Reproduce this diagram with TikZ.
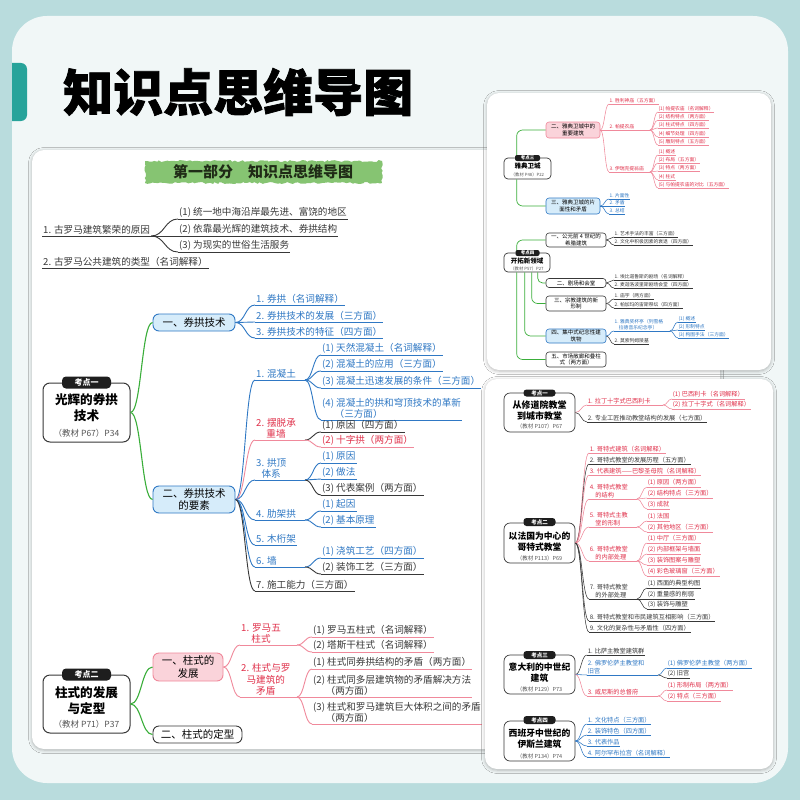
\documentclass[tikz,border=0pt]{standalone}
\usepackage{fontspec}
\setmainfont{Noto Sans CJK SC}
\newfontfamily\heavyfont{Noto Sans CJK SC}[BoldFeatures={FakeBold=1.5}]
\usetikzlibrary{calc, shadows.blur, decorations.pathmorphing}

\definecolor{bgteal}{HTML}{B9DCDD}
\definecolor{panel}{HTML}{F1F7F7}
\definecolor{tabteal}{HTML}{27A39A}
\definecolor{brush}{HTML}{86C472}
\definecolor{bannertext}{HTML}{1F2B16}
\definecolor{mblue}{HTML}{2F78C4}
\definecolor{mred}{HTML}{E0304A}
\definecolor{mpink}{HTML}{F0899B}
\definecolor{mgreen}{HTML}{3AAE3A}
\definecolor{mdark}{HTML}{383838}
\definecolor{mgray}{HTML}{555555}
\definecolor{lblue}{HTML}{D6ECFA}
\definecolor{lpink}{HTML}{FAD3DA}
\definecolor{tagblack}{HTML}{1E1E1E}

% curved mind-map connector, flat at both ends
\newcommand{\mmlink}[3][]{%
  \draw[#1] let \p1=(#2), \p2=(#3) in
    (\p1) .. controls ({0.5*\x1+0.5*\x2},\y1) and ({0.5*\x1+0.5*\x2},\y2) .. (\p2);}

\tikzset{
  leaf/.style={anchor=south west, inner xsep=1pt, inner ysep=1.2pt, align=left,
    font=\fontsize{9.6}{11.5}\selectfont},
  mleaf/.style={leaf, inner xsep=0.6pt, inner ysep=0.7pt, font=\fontsize{6.2}{7.8}\selectfont},
  sleaf/.style={leaf, inner xsep=0.4pt, inner ysep=0.5pt, font=\fontsize{4.8}{6}\selectfont},
  lk/.style={line width=0.9pt},
  hair/.style={line width=0.55pt},
  gline/.style={draw=mgreen, line width=1.1pt},
  topic/.style={draw=mdark, fill=white, line width=0.9pt, rounded corners=6pt,
    align=center, inner sep=1pt, font=\fontsize{10.5}{12.5}\selectfont},
  bluetopic/.style={topic, draw=mblue, fill=lblue},
  pinktopic/.style={topic, draw=mpink, fill=lpink},
  stopic/.style={line width=0.6pt, rounded corners=3pt, inner sep=0.5pt,
    font=\fontsize{5.5}{6.5}\selectfont},
  keybox/.style={draw=mdark, fill=white, line width=1pt, rounded corners=7pt},
  skeybox/.style={keybox, line width=0.7pt, rounded corners=4pt},
  keytag/.style={fill=tagblack, text=white, rounded corners=4pt, inner sep=0pt,
    font=\bfseries\fontsize{8}{8}\selectfont},
  keytitle/.style={align=center, inner sep=0pt, font=\bfseries\fontsize{12.6}{16}\selectfont},
  keysub/.style={inner sep=0pt, text=mgray, font=\fontsize{8.5}{10}\selectfont},
  sheet/.style={fill=white, rounded corners=12pt,
    blur shadow={shadow xshift=0pt, shadow yshift=-1pt, shadow blur radius=3.5pt, shadow opacity=30}},
}

\begin{document}
\begin{tikzpicture}[x=1pt, y=-1pt]
\useasboundingbox (0,0) rectangle (800,800);

% =========================================================================
% BACKGROUND
% =========================================================================
\fill[bgteal] (0,0) rectangle (800,800);
\fill[panel, rounded corners=35pt] (12,16) rectangle (788,783);
\fill[tabteal, rounded corners=6pt] (12,63) -- (27,63) -- (27,121) -- (12,121);
\node[anchor=west, inner sep=0pt, font=\heavyfont\bfseries\fontsize{50}{50}\selectfont] (title) at (63,92) {知识点思维导图};

% =========================================================================
% LEFT PAGE
% =========================================================================
\path[sheet] (32,150) rectangle (720,749);
\fill[brush, decorate, decoration={random steps, segment length=2.5pt, amplitude=1pt}] (145,161) rectangle (382,183);
\node[text=bannertext, font=\bfseries\fontsize{15}{15}\selectfont] (banner) at (263,172) {第一部分　知识点思维导图};

% --- causes and types ---
\node[leaf, text=mdark] (cause) at (42,236) {1. 古罗马建筑繁荣的原因};
\draw[lk, draw=mdark] (cause.south west) -- (cause.south east);
\foreach \nm/\yy/\tx in {causea/219/{(1) 统一地中海沿岸最先进、富饶的地区},
    causeb/236/{(2) 依靠最光辉的建筑技术、券拱结构}, causec/252/{(3) 为现实的世俗生活服务}}{
  \node[leaf, text=mdark] (\nm) at (178,\yy) {\tx};
  \draw[lk, draw=mdark] (\nm.south west) -- (\nm.south east);
  \mmlink[lk, draw=mdark]{cause.south east}{\nm.south west}
}
\node[leaf, text=mdark] (types) at (42,268) {2. 古罗马公共建筑的类型（名词解释）};
\draw[lk, draw=mdark] (types.south west) -- (types.south east);

% --- kaodian 1 ---
\node[keybox, minimum width=87pt, minimum height=59pt] (k1) at (86.5,412.5) {};
\node[keytitle] (k1t) at (86.5,408) {光辉的券拱\\技术};
\node[keysub] (k1s) at (86.5,433) {（教材 P67）P34};
\node[keytag, minimum width=49pt, minimum height=12pt] (k1g) at (86.5,382.5) {考点一};

\node[bluetopic, minimum width=82pt, minimum height=17pt] (t1) at (194,322.5) {一、券拱技术};
\node[bluetopic, minimum width=82pt, minimum height=27pt] (t2) at (194,499.5) {二、券拱技术\\的要素};
\mmlink[gline]{k1.east}{t1.west}
\mmlink[gline]{k1.east}{t2.west}

\foreach \nm/\yy/\tx in {a1/305/{1. 券拱（名词解释）}, a2/322/{2. 券拱技术的发展（三方面）},
    a3/338/{3. 券拱技术的特征（四方面）}}{
  \node[leaf, text=mblue] (\nm) at (255,\yy) {\tx};
  \draw[lk, draw=mblue] (\nm.south west) -- (\nm.south east);
  \mmlink[lk, draw=mblue]{t1.east}{\nm.south west}
}

% elements: parents with forks
\foreach \nm/\yy/\lc/\tc/\tx in {b1/380/mblue/mblue/{1. 混凝土}, b4/520/mblue/mblue/{4. 肋架拱},
    b6/567/mblue/mblue/{6. 墙}}{
  \node[leaf, text=\tc] (\nm) at (255,\yy) {\tx};
  \coordinate (\nm f) at (305,\yy);
  \draw[lk, draw=\lc] (\nm.south west) -- (\nm f);
  \mmlink[lk, draw=\lc]{t2.east}{\nm.south west}
}
\node[leaf, align=center, text=mred] (b2) at (255,440) {2. 摆脱承\\重墙};
\coordinate (b2f) at (305,440);
\draw[lk, draw=mpink] (b2.south west) -- (b2f);
\mmlink[lk, draw=mpink]{t2.east}{b2.south west}
\node[leaf, align=center, text=mblue] (b3) at (255,480) {3. 拱顶\\体系};
\coordinate (b3f) at (305,480);
\draw[lk, draw=mblue] (b3.south west) -- (b3f);
\mmlink[lk, draw=mblue]{t2.east}{b3.south west}
\node[leaf, text=mblue] (b5) at (255,545) {5. 木桁架};
\draw[lk, draw=mblue] (b5.south west) -- (b5.south east);
\mmlink[lk, draw=mblue]{t2.east}{b5.south west}
\node[leaf, text=mdark] (b7) at (255,591) {7. 施工能力（三方面）};
\draw[lk, draw=mdark] (b7.south west) -- (b7.south east);
\mmlink[lk, draw=mdark]{t2.east}{b7.south west}

% elements: children
\foreach \pa/\nm/\yy/\lc/\tc/\tx in {
    b1/b1a/355/mblue/mblue/{(1) 天然混凝土（名词解释）},
    b1/b1b/371/mblue/mblue/{(2) 混凝土的应用（三方面）},
    b1/b1c/388/mblue/mblue/{(3) 混凝土迅速发展的条件（三方面）},
    b1/b1d/420/mblue/mblue/{(4) 混凝土的拱和穹顶技术的革新\\\hspace*{1.3em}（三方面）},
    b2/b2a/432/mdark/mdark/{(1) 原因（四方面）},
    b2/b2b/447/mpink/mred/{(2) 十字拱（两方面）},
    b3/b3a/463/mblue/mblue/{(1) 原因},
    b3/b3b/479/mblue/mblue/{(2) 做法},
    b3/b3c/495/mdark/mdark/{(3) 代表案例（两方面）},
    b4/b4a/511/mblue/mblue/{(1) 起因},
    b4/b4b/527/mblue/mblue/{(2) 基本原理},
    b6/b6a/558/mblue/mblue/{(1) 浇筑工艺（四方面）},
    b6/b6b/574/mdark/mdark/{(2) 装饰工艺（三方面）}}{
  \node[leaf, text=\tc] (\nm) at (321,\yy) {\tx};
  \draw[lk, draw=\lc] (\nm.south west) -- (\nm.south east);
  \mmlink[lk, draw=\lc]{\pa f}{\nm.south west}
}

% --- kaodian 2 ---
\node[keybox, minimum width=87pt, minimum height=58pt] (k2) at (86.5,704) {};
\node[keytitle] (k2t) at (86.5,701) {柱式的发展\\与定型};
\node[keysub] (k2s) at (86.5,724) {（教材 P71）P37};
\node[keytag, minimum width=49pt, minimum height=12pt] (k2g) at (86.5,674.5) {考点二};

\node[pinktopic, minimum width=70pt, minimum height=28pt] (p1) at (188,667) {一、柱式的\\发展};
\node[topic, minimum width=89pt, minimum height=17pt] (p2) at (197.5,734.5) {二、柱式的定型};
\mmlink[gline]{k2.east}{p1.west}
\mmlink[gline]{k2.east}{p2.west}

\node[leaf, align=center, text=mred] (c1) at (240,645) {1. 罗马五\\柱式};
\coordinate (c1f) at (297,645);
\draw[lk, draw=mpink] (c1.south west) -- (c1f);
\mmlink[lk, draw=mpink]{p1.east}{c1.south west}
\node[leaf, align=center, text=mred] (c2) at (240,697) {2. 柱式与罗\\马建筑的\\矛盾};
\coordinate (c2f) at (297,697);
\draw[lk, draw=mpink] (c2.south west) -- (c2f);
\mmlink[lk, draw=mpink]{p1.east}{c2.south west}

\foreach \pa/\nm/\yy/\tx in {
    c1/c1a/637/{(1) 罗马五柱式（名词解释）},
    c1/c1b/652/{(2) 塔斯干柱式（名词解释）},
    c2/c2a/669/{(1) 柱式同券拱结构的矛盾（两方面）},
    c2/c2b/697/{(2) 柱式同多层建筑物的矛盾解决方法\\\hspace*{1.3em}（两方面）},
    c2/c2c/724/{(3) 柱式和罗马建筑巨大体积之间的矛盾\\\hspace*{1.3em}（两方面）}}{
  \node[leaf, text=mdark] (\nm) at (312,\yy) {\tx};
  \draw[lk, draw=mpink] (\nm.south west) -- (\nm.south east);
  \mmlink[lk, draw=mpink]{\pa f}{\nm.south west}
}

% =========================================================================
% UPPER RIGHT PAGE
% =========================================================================
\path[sheet] (487,93) rectangle (771,370);

% --- kaodian 3 ---
\node[skeybox, minimum width=47pt, minimum height=21pt] (k3) at (527.5,168.5) {};
\node[keytitle, font=\bfseries\fontsize{6.5}{8}\selectfont] (k3t) at (527.5,166.5) {雅典卫城};
\node[keysub, font=\fontsize{4.3}{5}\selectfont] (k3s) at (527.5,175) {（教材 P48）P22};
\node[pinktopic, stopic, minimum width=54pt, minimum height=16pt] (u2) at (573,130) {二、雅典卫城中的\\重要建筑};
\node[bluetopic, stopic, minimum width=54pt, minimum height=16pt] (u3) at (573,206) {三、雅典卫城的片\\面性和矛盾};
\draw[gline, line width=0.7pt, rounded corners=6pt] ($(k3.north west)+(13,0)$) |- (u2.west);
\draw[gline, line width=0.7pt, rounded corners=6pt] ($(k3.south west)+(13,0)$) |- (u3.west);
\node[keytag, minimum width=25pt, minimum height=6pt, rounded corners=2pt,
  font=\bfseries\fontsize{4.5}{4.5}\selectfont] (k3g) at (527.5,158) {考点三};

\foreach \nm/\yy/\tx in {v1/104/{1. 胜利神庙（五方面）}, v2/130/{2. 帕提农庙}, v3/172/{3. 伊瑞克提翁庙}}{
  \node[sleaf, text=mred] (\nm) at (609,\yy) {\tx};
  \coordinate (\nm f) at (650,\yy);
  \draw[hair, draw=mpink] (\nm.south west) -- (\nm.south east);
  \mmlink[hair, draw=mpink]{u2.east}{\nm.south west}
}
\draw[hair, draw=mpink] (v2.south east) -- (v2f);
\draw[hair, draw=mpink] (v3.south east) -- (v3f);
\foreach \pa/\nm/\yy/\tx in {
    v2/v2a/112/{(1) 帕提农庙（名词解释）}, v2/v2b/120/{(2) 结构特点（两方面）},
    v2/v2c/128/{(3) 柱式特点（四方面）}, v2/v2d/137/{(4) 细节处理（四方面）},
    v2/v2e/145/{(5) 雕刻特点（五方面）},
    v3/v3a/155/{(1) 概述}, v3/v3b/163/{(2) 布局（五方面）},
    v3/v3c/171/{(3) 特点（两方面）}, v3/v3d/180/{(4) 柱式},
    v3/v3e/188/{(5) 与帕提农庙的对比（五方面）}}{
  \node[sleaf, text=mred] (\nm) at (658,\yy) {\tx};
  \draw[hair, draw=mpink] (\nm.south west) -- (\nm.south east);
  \mmlink[hair, draw=mpink]{\pa f}{\nm.south west}
}
\foreach \nm/\yy/\tx in {w1/199/{1. 片面性}, w2/206/{2. 矛盾}, w3/214/{3. 总结}}{
  \node[sleaf, text=mblue] (\nm) at (609,\yy) {\tx};
  \draw[hair, draw=mblue] (\nm.south west) -- (\nm.south east);
  \mmlink[hair, draw=mblue]{u3.east}{\nm.south west}
}

% --- kaodian 4 ---
\node[skeybox, minimum width=46pt, minimum height=19pt] (k4) at (527,262.5) {};
\node[keytitle, font=\bfseries\fontsize{6.5}{8}\selectfont] (k4t) at (527,261) {开拓新领域};
\node[keysub, font=\fontsize{4.3}{5}\selectfont] (k4s) at (527,268.5) {（教材 P57）P27};
\node[topic, stopic, minimum width=60pt, minimum height=14pt] (u41) at (576,240) {一、公元前 4 世纪的\\希腊建筑};
\node[topic, stopic, minimum width=60pt, minimum height=9pt] (u42) at (576,283) {二、剧场和会堂};
\node[topic, stopic, minimum width=60pt, minimum height=15pt] (u43) at (576,303.5) {三、宗教建筑的新\\形制};
\node[bluetopic, stopic, minimum width=60pt, minimum height=14pt] (u44) at (576,336) {四、集中式纪念性建\\筑物};
\node[topic, stopic, minimum width=60pt, minimum height=15pt] (u45) at (576,359.5) {五、市场敞廊和叠柱\\式（两方面）};
\draw[gline, line width=0.7pt, rounded corners=6pt] ($(k4.north west)+(13,0)$) |- (u41.west);
\draw[gline, line width=0.7pt, rounded corners=6pt] ($(k4.south west)+(13,0)$) |- (u45.west);
\draw[gline, line width=0.7pt, rounded corners=6pt] ($(k4.south west)+(21,0)$) |- (u44.west);
\draw[gline, line width=0.7pt, rounded corners=6pt] ($(k4.south west)+(28,0)$) |- (u43.west);
\draw[gline, line width=0.7pt, rounded corners=5pt] ($(k4.south west)+(34,0)$) |- (u42.west);
\node[keytag, minimum width=24pt, minimum height=6pt, rounded corners=2pt,
  font=\bfseries\fontsize{4.5}{4.5}\selectfont] (k4g) at (527.5,253) {考点四};

\foreach \pa/\nm/\yy/\lc/\tx in {
    u41/x1/237/mdark/{1. 艺术手法的丰富（三方面）},
    u41/x2/245/mdark/{2. 文化中积极因素的衰退（四方面）},
    u42/x3/280/mdark/{1. 埃比道鲁斯的剧场（名词解释）},
    u42/x4/288/mdark/{2. 麦迦洛波里斯剧场会堂（四方面）},
    u43/x5/299/mdark/{1. 庙宇（两方面）},
    u43/x6/308/mdark/{2. 帕加玛的宙斯祭坛（四方面）},
    u44/x7/331/mblue/{1. 雅典奖杯亭（列雪格\\\hspace*{0.9em}拉德音乐纪念亭）},
    u44/x8/344/mdark/{2. 莫索列姆陵墓}}{
  \node[sleaf, text=\lc] (\nm) at (614,\yy) {\tx};
  \draw[hair, draw=\lc] (\nm.south west) -- (\nm.south east);
  \mmlink[hair, draw=\lc]{\pa.east}{\nm.south west}
}
\coordinate (x7f) at (670,331);
\draw[hair, draw=mblue] (x7.south east) -- (x7f);
\foreach \nm/\yy/\tx in {x7a/322/{(1) 概述}, x7b/330/{(2) 形制特点}, x7c/338/{(3) 构图手法（三方面）}}{
  \node[sleaf, text=mblue] (\nm) at (678,\yy) {\tx};
  \draw[hair, draw=mblue] (\nm.south west) -- (\nm.south east);
  \mmlink[hair, draw=mblue]{x7f}{\nm.south west}
}

% =========================================================================
% LOWER RIGHT PAGE
% =========================================================================
\path[sheet] (485,379) rectangle (773,769);

% --- kaodian 1 ---
\node[skeybox, minimum width=71pt, minimum height=39pt, rounded corners=6pt] (k5) at (539.5,412.5) {};
\node[keytitle, font=\bfseries\fontsize{9}{11}\selectfont] (k5t) at (539.5,410.5) {从修道院教堂\\到城市教堂};
\node[keysub, font=\fontsize{5.5}{6}\selectfont] (k5s) at (539.5,426) {（教材 P107）P67};
\node[keytag, minimum width=32pt, minimum height=7pt, rounded corners=3pt,
  font=\bfseries\fontsize{5.5}{5.5}\selectfont] (k5g) at (539.5,393) {考点一};

\node[mleaf, text=mred] (y1) at (587,405) {1. 拉丁十字式巴西利卡};
\coordinate (y1f) at (663,405);
\draw[hair, draw=mpink] (y1.south west) -- (y1f);
\mmlink[hair, draw=mpink]{k5.east}{y1.south west}
\node[mleaf, text=mdark] (y2) at (587,422) {2. 专业工匠推动教堂结构的发展（七方面）};
\draw[hair, draw=mdark] (y2.south west) -- (y2.south east);
\mmlink[hair, draw=mdark]{k5.east}{y2.south west}
\foreach \nm/\yy/\tx in {y1a/399/{(1) 巴西利卡（名词解释）}, y1b/409/{(2) 拉丁十字式（名词解释）}}{
  \node[mleaf, text=mred] (\nm) at (672,\yy) {\tx};
  \draw[hair, draw=mpink] (\nm.south west) -- (\nm.south east);
  \mmlink[hair, draw=mpink]{y1f}{\nm.south west}
}

% --- kaodian 2 ---
\node[skeybox, minimum width=71pt, minimum height=40pt, rounded corners=6pt] (k6) at (539.5,543) {};
\node[keytitle, font=\bfseries\fontsize{8.8}{11}\selectfont] (k6t) at (539.5,541.5) {以法国为中心的\\哥特式教堂};
\node[keysub, font=\fontsize{5.5}{6}\selectfont] (k6s) at (539.5,558) {（教材 P113）P69};
\node[keytag, minimum width=32pt, minimum height=8pt, rounded corners=3pt,
  font=\bfseries\fontsize{5.5}{5.5}\selectfont] (k6g) at (539.5,522) {考点二};

\foreach \nm/\yy/\lc/\tc/\tx in {
    z1/453/mpink/mred/{1. 哥特式建筑（名词解释）},
    z2/464/mdark/mdark/{2. 哥特式教堂的发展历程（五方面）},
    z3/475/mpink/mred/{3. 代表建筑——巴黎圣母院（名词解释）},
    z4/499/mpink/mred/{4. 哥特式教堂\\\hspace*{0.9em}的结构},
    z5/527/mpink/mred/{5. 哥特式主教\\\hspace*{0.9em}堂的形制},
    z6/561/mpink/mred/{6. 哥特式教堂\\\hspace*{0.9em}的内部处理},
    z7/599/mdark/mdark/{7. 哥特式教堂\\\hspace*{0.9em}的外部处理},
    z8/621/mdark/mdark/{8. 哥特式教堂和市民建筑互相影响（三方面）},
    z9/632/mdark/mdark/{9. 文化的复杂性与矛盾性（四方面）}}{
  \node[mleaf, text=\tc] (\nm) at (589,\yy) {\tx};
  \coordinate (\nm f) at (637,\yy);
  \draw[hair, draw=\lc] (\nm.south west) -- (\nm.south east);
  \mmlink[hair, draw=\lc]{k6.east}{\nm.south west}
}
\foreach \nm/\lc in {z4/mpink, z5/mpink, z6/mpink, z7/mdark}{
  \draw[hair, draw=\lc] (\nm.south east) -- (\nm f);
}
\foreach \pa/\nm/\yy/\lc/\tc/\tx in {
    z4/z4a/487/mpink/mred/{(1) 原因（两方面）},
    z4/z4b/498/mpink/mred/{(2) 结构特点（三方面）},
    z4/z4c/509/mpink/mred/{(3) 成就},
    z5/z5a/521/mpink/mred/{(1) 法国},
    z5/z5b/532/mpink/mred/{(2) 其他地区（三方面）},
    z6/z6a/543/mpink/mred/{(1) 中厅（三方面）},
    z6/z6b/554/mpink/mred/{(2) 内部框架与墙面},
    z6/z6c/565/mpink/mred/{(3) 装饰图案与雕塑},
    z6/z6d/576/mpink/mred/{(4) 彩色玻璃窗（三方面）},
    z7/z7a/588/mdark/mdark/{(1) 西面的典型构图},
    z7/z7b/599/mdark/mdark/{(2) 重量感的削弱},
    z7/z7c/609/mdark/mdark/{(3) 装饰与雕塑}}{
  \node[mleaf, text=\tc] (\nm) at (647,\yy) {\tx};
  \draw[hair, draw=\lc] (\nm.south west) -- (\nm.south east);
  \mmlink[hair, draw=\lc]{\pa f}{\nm.south west}
}

% --- kaodian 3 ---
\node[skeybox, minimum width=71pt, minimum height=39pt, rounded corners=6pt] (k7) at (539.5,674.5) {};
\node[keytitle, font=\bfseries\fontsize{8.8}{11}\selectfont] (k7t) at (539.5,672.5) {意大利的中世纪\\建筑};
\node[keysub, font=\fontsize{5.5}{6}\selectfont] (k7s) at (539.5,689) {（教材 P129）P73};
\node[keytag, minimum width=32pt, minimum height=8pt, rounded corners=3pt,
  font=\bfseries\fontsize{5.5}{5.5}\selectfont] (k7g) at (539.5,655) {考点三};

\node[mleaf, text=mdark] (q1) at (587,655) {1. 比萨主教堂建筑群};
\draw[hair, draw=mdark] (q1.south west) -- (q1.south east);
\mmlink[hair, draw=mdark]{k7.east}{q1.south west}
\node[mleaf, text=mblue] (q2) at (587,675) {2. 佛罗伦萨主教堂和\\旧宫};
\coordinate (q2f) at (658,675);
\draw[hair, draw=mblue] (q2.south west) -- (q2f);
\mmlink[hair, draw=mblue]{k7.east}{q2.south west}
\node[mleaf, text=mred] (q3) at (587,696) {3. 威尼斯的总督府};
\coordinate (q3f) at (658,696);
\draw[hair, draw=mpink] (q3.south west) -- (q3f);
\mmlink[hair, draw=mpink]{k7.east}{q3.south west}
\foreach \pa/\nm/\yy/\lc/\tc/\tx in {
    q2/q2a/668/mblue/mblue/{(1) 佛罗伦萨主教堂（两方面）},
    q2/q2b/678/mdark/mdark/{(2) 旧宫},
    q3/q3a/690/mpink/mred/{(1) 形制布局（两方面）},
    q3/q3b/701/mpink/mred/{(2) 特点（三方面）}}{
  \node[mleaf, text=\tc] (\nm) at (667,\yy) {\tx};
  \draw[hair, draw=\lc] (\nm.south west) -- (\nm.south east);
  \mmlink[hair, draw=\lc]{\pa f}{\nm.south west}
}

% --- kaodian 4 ---
\node[skeybox, minimum width=71pt, minimum height=40pt, rounded corners=6pt] (k8) at (539.5,741) {};
\node[keytitle, font=\bfseries\fontsize{8.8}{11}\selectfont] (k8t) at (539.5,738.5) {西班牙中世纪的\\伊斯兰建筑};
\node[keysub, font=\fontsize{5.5}{6}\selectfont] (k8s) at (539.5,756) {（教材 P134）P74};
\node[keytag, minimum width=32pt, minimum height=8pt, rounded corners=3pt,
  font=\bfseries\fontsize{5.5}{5.5}\selectfont] (k8g) at (539.5,720) {考点四};

\foreach \nm/\yy/\tx in {s1/724/{1. 文化特点（三方面）}, s2/735/{2. 装饰特色（四方面）},
    s3/746/{3. 代表作品}, s4/757/{4. 阿尔罕布拉宫（名词解释）}}{
  \node[mleaf, text=mblue] (\nm) at (587,\yy) {\tx};
  \draw[hair, draw=mblue] (\nm.south west) -- (\nm.south east);
  \mmlink[hair, draw=mblue]{k8.east}{\nm.south west}
}

\end{tikzpicture}
\end{document}
